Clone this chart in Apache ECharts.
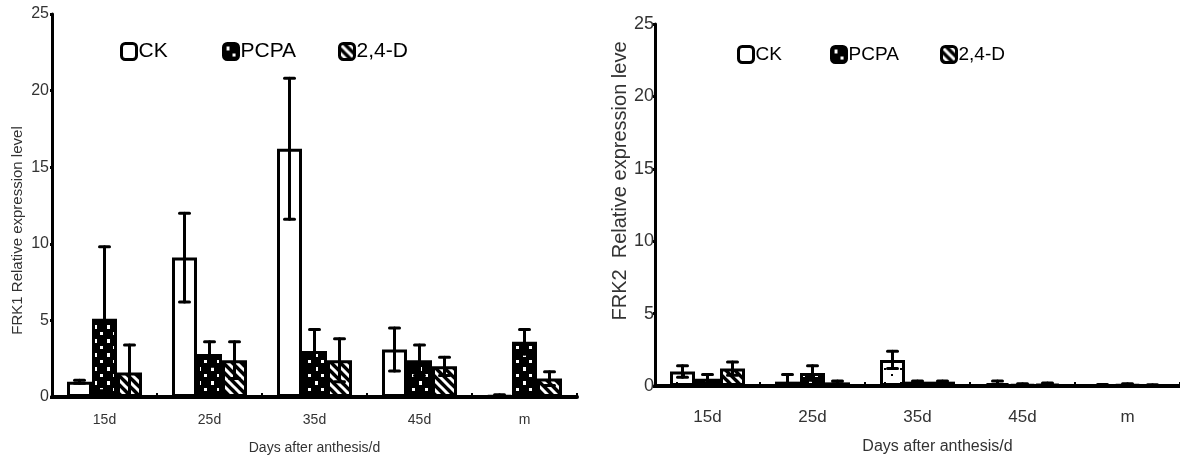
<!DOCTYPE html>
<html>
<head>
<meta charset="utf-8">
<script src="https://cdn.jsdelivr.net/npm/echarts@6/dist/echarts.min.js"></script>
<style>
  html, body { margin: 0; padding: 0; background: #fff; }
  .EC { width: 1180px; height: 457px; }
</style>
</head>
<body>
<div class="EC"></div>
<script>
// categories
const days = ['15d', '25d', '35d', '45d', 'm']
const groups = ['CK', 'PCPA', '2,4-D']

// FRK1 (left panel): means and errors
const frk1CK = [1.0, 9.1, 16.2, 3.1, 0.1]
const frk1CKErr = [0.1, 2.9, 4.6, 1.4, 0.05]
const frk1PCPA = [5.1, 2.8, 3.0, 2.4, 3.6]
const frk1PCPAErr = [4.7, 0.8, 1.4, 1.0, 0.8]
const frk1D = [1.6, 2.4, 2.4, 2.0, 1.2]
const frk1DErr = [1.8, 1.2, 1.4, 0.6, 0.45]

// FRK2 (right panel)
const frk2CK = [1.0, 0.3, 1.8, 0.2, 0.05]
const frk2CKErr = [0.4, 0.5, 0.6, 0.15, 0.05]
const frk2PCPA = [0.5, 0.9, 0.3, 0.1, 0.1]
const frk2PCPAErr = [0.3, 0.5, 0.05, 0.05, 0.05]
const frk2D = [1.2, 0.25, 0.3, 0.15, 0.05]
const frk2DErr = [0.45, 0.1, 0.05, 0.05, 0.03]

const yTicks = [0, 5, 10, 15, 20, 25]

window.onload = () => {
    let EC = echarts.init(document.querySelector('.EC'))
    const FONT = '"Liberation Sans", Arial, sans-serif'
    const BAR_W = 25

    // fill patterns drawn on small canvases
    const makePattern = (w, h, draw) => {
        let c = document.createElement('canvas')
        c.width = w
        c.height = h
        draw(c.getContext('2d'))
        return { image: c, repeat: 'repeat' }
    }
    const dots = makePattern(13, 14, ctx => {
        ctx.fillStyle = '#000'
        ctx.fillRect(0, 0, 13, 14)
        ctx.fillStyle = '#fff'
        ctx.fillRect(3, 3, 3, 4)
        ctx.fillRect(9, 10, 3, 3)
    })
    const stripes = makePattern(9, 9, ctx => {
        ctx.fillStyle = '#000'
        ctx.fillRect(0, 0, 9, 9)
        ctx.strokeStyle = '#fff'
        ctx.lineWidth = 3
        ctx.beginPath()
        ctx.moveTo(-2, -2); ctx.lineTo(11, 11)
        ctx.moveTo(-11, -2); ctx.lineTo(2, 11)
        ctx.moveTo(7, -2); ctx.lineTo(20, 11)
        ctx.stroke()
    })
    const sparse = makePattern(16, 14, ctx => {
        ctx.fillStyle = '#fff'
        ctx.fillRect(0, 0, 16, 14)
        ctx.fillStyle = '#000'
        ctx.fillRect(4, 4, 2, 2)
        ctx.fillRect(11, 10, 2, 2)
    })

    const barSeries = (name, values, fill, idx) => ({
        name: name,
        type: 'bar',
        xAxisIndex: idx,
        yAxisIndex: idx,
        barWidth: BAR_W,
        barGap: '0%',
        data: values,
        itemStyle: { color: fill, borderColor: '#000', borderWidth: 3 },
        emphasis: { disabled: true },
        z: 2
    })

    // error bar: vertical line with caps, shifted to its bar inside the group
    const errSeries = (values, errs, k, idx) => ({
        type: 'custom',
        xAxisIndex: idx,
        yAxisIndex: idx,
        silent: true,
        z: 5,
        data: values.map((v, i) => [i, v, errs[i], k]),
        encode: { x: 0, y: 1 },
        renderItem: (params, api) => {
            let i = api.value(0), v = api.value(1), e = api.value(2), kk = api.value(3)
            let top = api.coord([i, v + e])
            let bot = api.coord([i, Math.max(v - e, 0)])
            let x = top[0] + (kk - 1) * BAR_W
            let cap = 5
            let style = { stroke: '#000', lineWidth: 3, lineCap: 'round' }
            return {
                type: 'group',
                children: [
                    { type: 'line', shape: { x1: x, y1: top[1], x2: x, y2: bot[1] }, style: style },
                    { type: 'line', shape: { x1: x - cap, y1: top[1], x2: x + cap, y2: top[1] }, style: style },
                    { type: 'line', shape: { x1: x - cap, y1: bot[1], x2: x + cap, y2: bot[1] }, style: style }
                ]
            }
        }
    })

    const legendAt = (name, left, top, size) => ({
        data: [name],
        left: left,
        top: top,
        itemWidth: 15,
        itemHeight: 16,
        itemStyle: { borderColor: '#000', borderWidth: 3 },
        textStyle: { color: '#000', fontSize: size, fontFamily: FONT, padding: [0, 0, 0, -3] },
        selectedMode: false
    })

    const xAxisOf = (idx, labelSize, labelMargin, nameSize, namePad, nameGap) => ({
        type: 'category',
        gridIndex: idx,
        data: days,
        name: 'Days after anthesis/d',
        nameLocation: 'middle',
        nameGap: nameGap,
        nameTextStyle: { color: '#333', fontSize: nameSize, fontFamily: FONT, padding: namePad },
        axisLine: { lineStyle: { color: '#000', width: 4 } },
        axisTick: { show: true, inside: true, length: 4, lineStyle: { color: '#000', width: 2 } },
        axisLabel: { color: '#333', fontSize: labelSize, fontFamily: FONT, margin: labelMargin },
        splitLine: { show: false }
    })

    const yAxisOf = (idx, name, labelSize, nameSize, namePad, nameGap, labelMargin) => ({
        type: 'value',
        gridIndex: idx,
        min: yTicks[0],
        max: yTicks[yTicks.length - 1],
        interval: yTicks[1] - yTicks[0],
        name: name,
        nameLocation: 'middle',
        nameGap: nameGap,
        nameTextStyle: { color: '#333', fontSize: nameSize, fontFamily: FONT, padding: namePad },
        axisLine: { show: true, lineStyle: { color: '#000', width: 3 } },
        axisTick: { show: true, length: 2, lineStyle: { color: '#000', width: 3 } },
        axisLabel: { color: '#333', fontSize: labelSize, fontFamily: FONT, margin: labelMargin },
        splitLine: { show: false }
    })

    let option = {
        backgroundColor: '#fff',
        animation: false,
        grid: [
            { left: 52, top: 14, width: 525, bottom: 60, outerBoundsMode: 'none', containLabel: false },
            { left: 655, top: 24, right: 0, bottom: 71, outerBoundsMode: 'none', containLabel: false }
        ],
        legend: [
            legendAt('CK', 115, 36, 21),
            legendAt('PCPA', 217, 36, 21),
            legendAt('2,4-D', 333, 36, 21),
            legendAt('CK', 732, 40, 19),
            legendAt('PCPA', 825, 40, 19),
            legendAt('2,4-D', 935, 40, 19)
        ],
        xAxis: [
            xAxisOf(0, 14, 16, 14, [0, 0, 0, 0], 44),
            xAxisOf(1, 17, 23, 16, [0, 0, 0, 40], 53)
        ],
        yAxis: [
            yAxisOf(0, 'FRK1 Relative expression level', 16, 15, [0, 50, 0, 0], 27, 3),
            yAxisOf(1, 'FRK2  Relative expression leve', 18, 20, [0, 0, 0, 48], 25, 1)
        ],
        series: [
            barSeries(groups[0], frk1CK, '#fff', 0),
            barSeries(groups[1], frk1PCPA, dots, 0),
            barSeries(groups[2], frk1D, stripes, 0),
            barSeries(groups[0], frk2CK, sparse, 1),
            barSeries(groups[1], frk2PCPA, dots, 1),
            barSeries(groups[2], frk2D, stripes, 1),
            errSeries(frk1CK, frk1CKErr, 0, 0),
            errSeries(frk1PCPA, frk1PCPAErr, 1, 0),
            errSeries(frk1D, frk1DErr, 2, 0),
            errSeries(frk2CK, frk2CKErr, 0, 1),
            errSeries(frk2PCPA, frk2PCPAErr, 1, 1),
            errSeries(frk2D, frk2DErr, 2, 1)
        ]
    }
    EC.setOption(option)
}
</script>
</body>
</html>
